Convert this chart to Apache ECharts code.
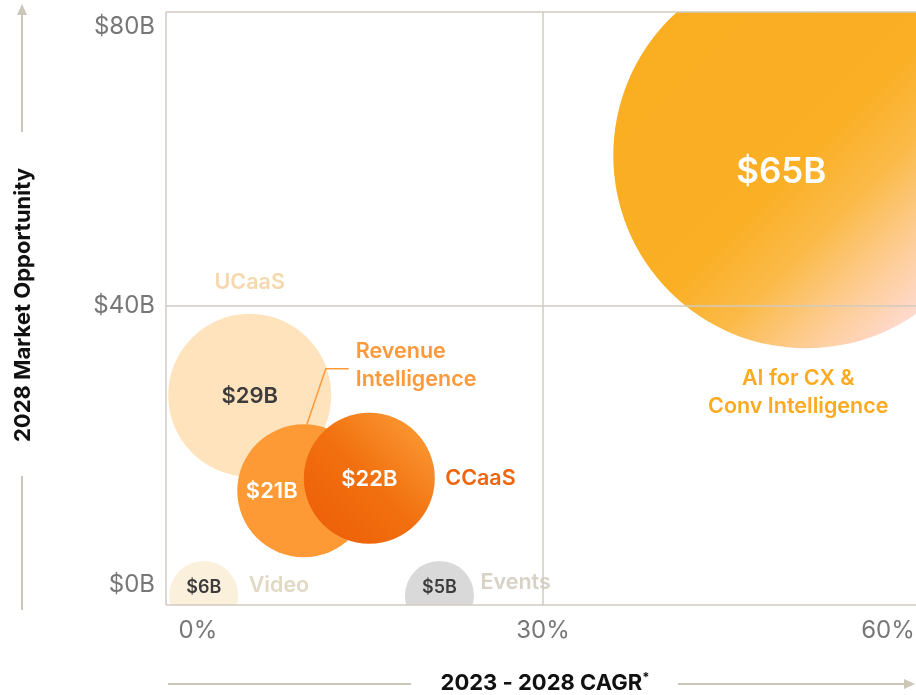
<!DOCTYPE html>
<html><head><meta charset="utf-8">
<script src="https://cdn.jsdelivr.net/npm/echarts@6/dist/echarts.min.js"></script>
<style>html,body{margin:0;padding:0;background:#fff;overflow:hidden}#c{width:916px;height:695px}</style>
</head><body><div id="c"></div>
<script>
// ---------- DATA ----------
const categories = ['UCaaS', 'Revenue Intelligence', 'CCaaS', 'Video', 'Events', 'AI for CX & Conv Intelligence'];
const cagrPct = [4.5, 9.2, 14.9, 0.5, 21.0, 52.9];          // x: 2023-2028 CAGR (%)
const opportunityY = [27.2, 13.5, 15.3, -1.5, -1.5, 61.6];   // y placement ($B)
const marketSizeB = [29, 21, 22, 6, 5, 65];                  // 2028 market size ($B)
const nameLabels = ['UCaaS', 'Revenue\nIntelligence', 'CCaaS', 'Video', 'Events', 'AI for CX &\nConv Intelligence'];
const xTicks = [0, 30, 60];
const yTicks = [0, 40, 80];
const xTickLabels = ['0%', '30%', '60%'];
const yTickLabels = ['$0B', '$40B', '$80B'];

// ---------- STYLE ----------
const FONT = 'Inter, "Noto Sans", sans-serif';
const G = echarts.graphic;
const styles = [
  { d: 163, fill: '#FFE3BD', vColor: '#3c3c3c', vOff: [0, 1], vSize: 22,
    nColor: '#F6D8AE', nAlign: 'center', nOff: [0, -113] },
  { d: 133, fill: '#FD9A36', vColor: '#ffffff', vOff: [-32, 1], vSize: 22,
    nColor: '#FC993A', nAlign: 'left', nOff: [52, -125] },
  { d: 131, fill: new G.LinearGradient(0, 1, 1, 0, [
      { offset: 0, color: '#EC5C06' }, { offset: 0.5, color: '#F2700F' }, { offset: 1, color: '#FCA23C' }]),
    vColor: '#ffffff', vOff: [0, 1], vSize: 22,
    nColor: '#F0640C', nAlign: 'left', nOff: [76, 0] },
  { d: 69, fill: '#FAF0DC', vColor: '#3c3c3c', vOff: [0, -8], vSize: 18,
    nColor: '#E2D9C4', nAlign: 'left', nOff: [45, -10] },
  { d: 69, fill: '#D9D9D9', vColor: '#3c3c3c', vOff: [0, -8], vSize: 18,
    nColor: '#D8D2C6', nAlign: 'left', nOff: [41, -13] },
  { d: 386, fill: new G.LinearGradient(0, 0, 1, 1, [
      { offset: 0, color: '#FAAD20' }, { offset: 0.5, color: '#FAAF25' }, { offset: 0.62, color: '#FBBA48' },
      { offset: 0.74, color: '#FDCC92' }, { offset: 0.85, color: '#FFDAD0' }, { offset: 1, color: '#FFE6E6' }]),
    vColor: '#ffffff', vOff: [-25, 17], vSize: 35,
    nColor: '#FBAA22', nAlign: 'center', nOff: [-8, 237] }
];
const LINE = '#D0CBBF';
const X_MIN = -2.78, X_MAX = 66.79, Y_MIN = -2.87, Y_MAX = 82.15;

const chart = echarts.init(document.getElementById('c'), null, { renderer: 'canvas' });

const seriesData = categories.map((c, i) => [cagrPct[i], opportunityY[i], marketSizeB[i]]);
const lineStyle = { color: LINE, width: 1.5, type: 'solid' };

chart.setOption({
  animation: false,
  textStyle: { fontFamily: FONT },
  grid: { left: 166, top: 12, width: 800, height: 593, show: false,
    containLabel: false, outerBoundsMode: 'none' },
  xAxis: {
    type: 'value', min: X_MIN, max: X_MAX,
    axisLine: { show: false }, axisTick: { show: false }, splitLine: { show: false },
    axisLabel: { customValues: xTicks, formatter: v => xTickLabels[xTicks.indexOf(v)] ?? '',
      color: '#777', fontSize: 24, margin: 14, fontFamily: FONT }
  },
  yAxis: {
    type: 'value', min: Y_MIN, max: Y_MAX,
    axisLine: { show: false }, axisTick: { show: false }, splitLine: { show: false },
    axisLabel: { customValues: yTicks, formatter: v => yTickLabels[yTicks.indexOf(v)] ?? '',
      color: '#777', fontSize: 24, margin: 11, fontFamily: FONT }
  },
  series: [
    { type: 'scatter', z: 1, silent: true, data: [], symbolSize: 0,
      markLine: { silent: true, symbol: ['none', 'none'], label: { show: false }, lineStyle,
        data: [{ xAxis: xTicks[1] }, { yAxis: yTicks[1] }] } },
    { type: 'custom', name: 'bubbles', z: 2, silent: true, clip: true, data: seriesData,
      renderItem: (params, api) => {
        const i = params.dataIndex, s = styles[i];
        const p = api.coord([api.value(0), api.value(1)]);
        return {
          type: 'circle',
          shape: { cx: p[0], cy: p[1], r: s.d / 2 },
          style: { fill: s.fill },
          textContent: { style: { text: '$' + api.value(2) + 'B', fill: s.vColor,
            font: '600 ' + s.vSize + 'px ' + FONT } },
          textConfig: { position: 'inside', offset: s.vOff }
        };
      } },
    { type: 'custom', name: 'names', z: 3, silent: true, clip: false, data: seriesData,
      renderItem: (params, api) => {
        const i = params.dataIndex, s = styles[i];
        const p = api.coord([api.value(0), api.value(1)]);
        return {
          type: 'text', x: p[0] + s.nOff[0], y: p[1] + s.nOff[1],
          style: { text: nameLabels[i], fill: s.nColor, font: '600 21.5px ' + FONT,
            lineHeight: 28, align: s.nAlign, verticalAlign: 'middle' }
        };
      } },
    { type: 'scatter', z: 4, silent: true, data: [], symbolSize: 0,
      markLine: { silent: true, symbol: ['none', 'none'], label: { show: false }, lineStyle,
        data: [{ xAxis: X_MIN }, { yAxis: Y_MIN }, { yAxis: Y_MAX }] } }
  ]
});

// leader line for Revenue Intelligence
const ri = categories.indexOf('Revenue Intelligence');
const c = chart.convertToPixel({ gridIndex: 0 }, [cagrPct[ri], opportunityY[ri]]);
const axC = '#CBC6B8';
chart.setOption({
  graphic: [
    { type: 'polyline', silent: true, z: 10,
      shape: { points: [[c[0] + 3, c[1] - 66], [c[0] + 22, c[1] - 122], [c[0] + 45, c[1] - 122]] },
      style: { stroke: '#FC993A', lineWidth: 1.5, fill: null } },
    // y title + arrow
    { type: 'line', shape: { x1: 22, y1: 132, x2: 22, y2: 14 }, style: { stroke: axC, lineWidth: 2 } },
    { type: 'polygon', shape: { points: [[22, 4], [17, 15], [27, 15]] }, style: { fill: axC } },
    { type: 'line', shape: { x1: 22, y1: 476, x2: 22, y2: 610 }, style: { stroke: axC, lineWidth: 2 } },
    { type: 'text', x: 23, y: 305, rotation: Math.PI / 2,
      style: { text: '2028 Market Opportunity', fill: '#111', font: '700 22px ' + FONT,
        align: 'center', verticalAlign: 'middle' } },
    // x title + arrow
    { type: 'line', shape: { x1: 168, y1: 684, x2: 411, y2: 684 }, style: { stroke: axC, lineWidth: 2 } },
    { type: 'line', shape: { x1: 678, y1: 684, x2: 905, y2: 684 }, style: { stroke: axC, lineWidth: 2 } },
    { type: 'polygon', shape: { points: [[915, 684], [904, 679], [904, 689]] }, style: { fill: axC } },
    { type: 'text', x: 545, y: 683,
      style: { text: '{a|2023 - 2028 CAGR}{s|*}', align: 'center', verticalAlign: 'middle',
        rich: { a: { fill: '#111', fontSize: 22, fontWeight: 700, fontFamily: FONT },
                s: { fill: '#111', fontSize: 13, fontWeight: 700, fontFamily: FONT, padding: [0, 0, 10, 0] } } } }
  ]
});
</script></body></html>
